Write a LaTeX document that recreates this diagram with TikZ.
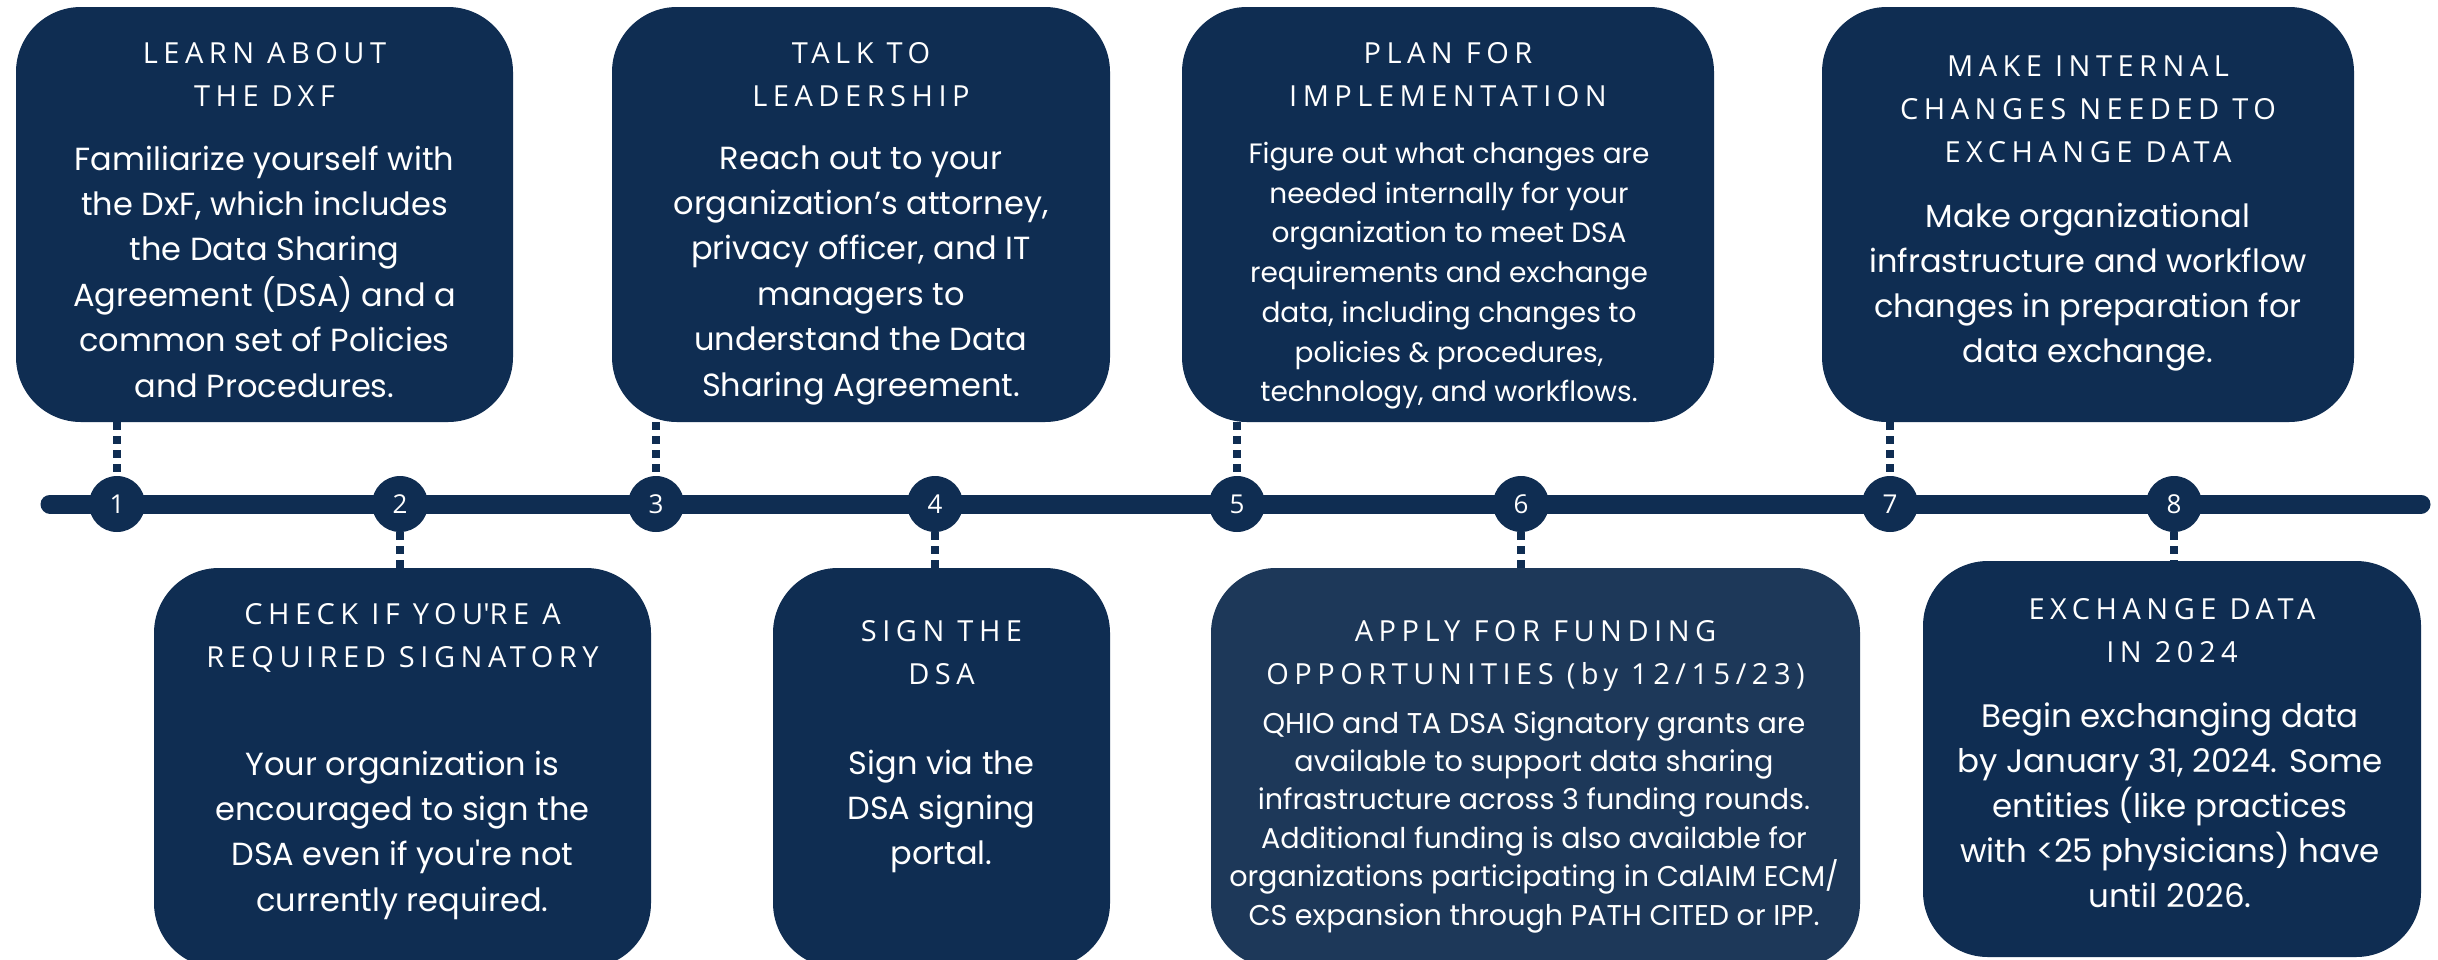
\documentclass[tikz,border=0pt]{standalone}
\usepackage{fontspec}
\setmainfont{Poppins}
\newfontfamily\headfont[LetterSpace=19]{Open Sans}
\newfontfamily\numfont{Open Sans}
\definecolor{navy}{HTML}{0F2D52}
\definecolor{navylight}{HTML}{1D3859}
\begin{document}
\begin{tikzpicture}[x=1pt,y=-1pt]
\tikzset{
  card/.style={fill=navy, draw=none, rounded corners=65pt, inner sep=0pt, outer sep=0pt},
  dot/.style={circle, fill=navy, minimum size=56pt, inner sep=0pt, text=white, font=\numfont\fontsize{26}{26}\selectfont},
  conn/.style={navy, line width=8pt, dash pattern=on 8pt off 6pt},
  head/.style={text=white, align=center, inner sep=0pt, anchor=base, font=\headfont\fontsize{29}{43}\selectfont},
  body/.style={text=white, align=center, inner sep=0pt, anchor=base, font=\fontsize{32}{45.4}\selectfont},
}
\fill[white] (0,0) rectangle (2438,959);
\useasboundingbox (0,0) rectangle (2438,959);

% top cards (y 7 .. 422)
\node[card, minimum width=497pt, minimum height=415pt] (c1) at (264.5,214.5) {};
\node[card, minimum width=498pt, minimum height=415pt] (c3) at (861,214.5) {};
\node[card, minimum width=532pt, minimum height=415pt] (c5) at (1448,214.5) {};
\node[card, minimum width=532pt, minimum height=415pt] (c7) at (2088,214.5) {};
% bottom cards
\node[card, minimum width=497pt, minimum height=400pt] (c2) at (402.5,768) {};
\node[card, minimum width=337pt, minimum height=400pt] (c4) at (941.5,768) {};
\node[card, fill=navylight, minimum width=649pt, minimum height=400pt] (c6) at (1535.5,768) {};
\node[card, minimum width=498pt, minimum height=396pt] (c8) at (2172,759) {};

% timeline
\coordinate (tl) at (50,504);
\coordinate (tr) at (2421,504);
\draw[navy, line width=19pt, line cap=round] (tl) -- (tr);
\node[dot] (n1) at (117,504) {1};
\node[dot] (n2) at (400,504) {2};
\node[dot] (n3) at (656,504) {3};
\node[dot] (n4) at (935,504) {4};
\node[dot] (n5) at (1237,504) {5};
\node[dot] (n6) at (1521,504) {6};
\node[dot] (n7) at (1890,504) {7};
\node[dot] (n8) at (2174,504) {8};

% connectors
\draw[conn] (c1.south -| n1) -- (n1.north);
\draw[conn] (c3.south -| n3) -- (n3.north);
\draw[conn] (c5.south -| n5) -- (n5.north);
\draw[conn] (c7.south -| n7) -- (n7.north);
\draw[conn] (n2.south) -- (c2.north -| n2);
\draw[conn] (n4.south) -- (c4.north -| n4);
\draw[conn] (n6.south) -- (c6.north -| n6);
\draw[conn] (n8.south) -- (c8.north -| n8);

% texts top (anchor = baseline of the last line)
\node[head] (h1) at (264.5,106) {LEARN ABOUT\\THE DXF};
\node[body] (b1) at (264.5,397) {Familiarize yourself with\\the DxF, which includes\\the Data Sharing\\Agreement (DSA) and a\\common set of Policies\\and Procedures.};
\node[head] (h3) at (861,106) {TALK TO\\LEADERSHIP};
\node[body] (b3) at (861,396) {Reach out to your\\organization’s attorney,\\privacy officer, and IT\\managers to\\understand the Data\\Sharing Agreement.};
\node[head] (h5) at (1448,106) {PLAN FOR\\IMPLEMENTATION};
\node[body, font=\fontsize{28}{39.7}\selectfont] (b5) at (1449,401.7) {Figure out what changes are\\needed internally for your\\organization to meet DSA\\requirements and exchange\\data, including changes to\\policies \& procedures,\\technology, and workflows.};
\node[head] (h7) at (2088,162.3) {MAKE INTERNAL\\CHANGES NEEDED TO\\EXCHANGE DATA};
\node[body, font=\fontsize{32}{45}\selectfont] (b7) at (2088,362) {Make organizational\\infrastructure and workflow\\changes in preparation for\\data exchange.};

% texts bottom
\node[head] (h2) at (402.5,667) {CHECK IF YOU\textquotesingle RE A\\REQUIRED SIGNATORY};
\node[body, font=\fontsize{32}{45.3}\selectfont] (b2) at (402.5,911) {Your organization is\\encouraged to sign the\\DSA even if you\textquotesingle re not\\currently required.};
\node[head] (h4) at (941.5,684) {SIGN THE\\DSA};
\node[body, font=\fontsize{32}{45}\selectfont] (b4) at (941.5,864) {Sign via the\\DSA signing\\portal.};
\node[head] (h6) at (1535.5,684) {APPLY FOR FUNDING\\OPPORTUNITIES (by 12/15/23)};
\node[body, font=\fontsize{28.6}{38.4}\selectfont] (b6) at (1534,925) {QHIO and TA DSA Signatory grants are\\available to support data sharing\\infrastructure across 3 funding rounds.\\Additional funding is also available for\\organizations participating in CalAIM ECM/\\CS expansion through PATH CITED or IPP.};
\node[head] (h8) at (2172,662) {EXCHANGE DATA\\IN 2024};
\node[body, font=\fontsize{32.5}{45}\selectfont] (b8) at (2170,907) {Begin exchanging data\\by January 31, 2024. Some\\entities (like practices\\with <25 physicians) have\\until 2026.};
\end{tikzpicture}
\end{document}
